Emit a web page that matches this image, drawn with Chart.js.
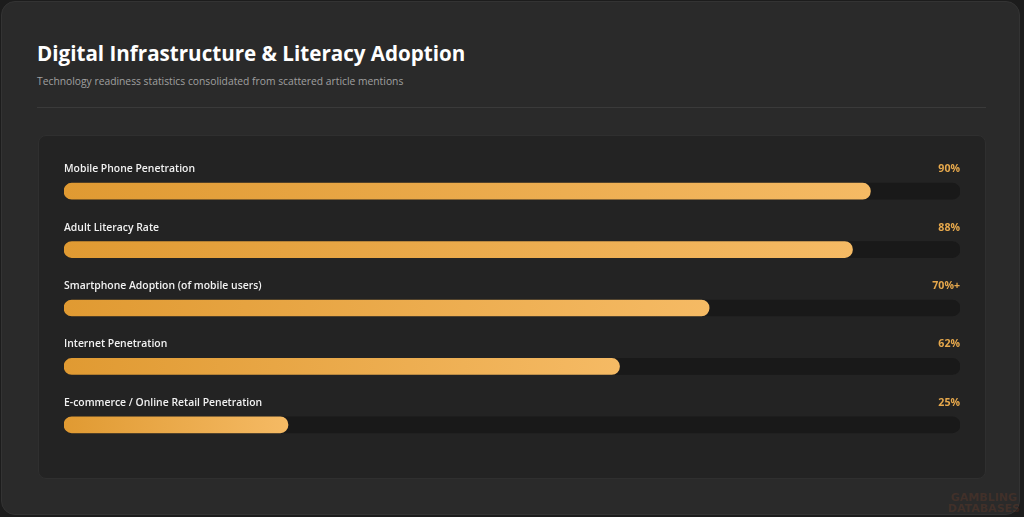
<!DOCTYPE html>
<html>
<head>
<meta charset="utf-8">
<script src="https://cdn.jsdelivr.net/npm/chart.js@4.4.1/dist/chart.umd.min.js"></script>
<style>
  html, body { margin: 0; padding: 0; background: #1c1c1c; }
  body { width: 1024px; height: 517px; overflow: hidden; font-family: "Open Sans", "Noto Sans", sans-serif; }
  .card { position: absolute; left: 1px; top: 1px; width: 1019px; height: 514px; background: #2a2a2a; border: 1px solid #333; border-radius: 14px; box-sizing: border-box; }
  h1 { position: absolute; left: 37px; top: 39px; margin: 0; font-size: 20.6px; font-weight: 700; color: #ffffff; }
  .sub { position: absolute; left: 37px; top: 74px; font-size: 10.3px; color: #a0a0a0; }
  .rule { position: absolute; left: 37px; top: 107px; width: 949px; height: 1px; background: #3a3a3a; }
  .panel { position: absolute; left: 38px; top: 135px; width: 948px; height: 344px; background: #232323; border: 1px solid #2f2f2f; border-radius: 8px; box-sizing: border-box; }
  .chartbox { position: absolute; left: 64px; top: 162px; width: 896px; height: 292px; }
  .wm { position: absolute; right: 4px; bottom: 3px; font: 700 11px "DejaVu Sans", sans-serif; color: rgba(150,70,40,0.22); text-align: center; line-height: 11px; }
</style>
</head>
<body>
<div class="card"></div>
<h1>Digital Infrastructure &amp; Literacy Adoption</h1>
<div class="sub">Technology readiness statistics consolidated from scattered article mentions</div>
<div class="rule"></div>
<div class="panel"></div>
<div class="chartbox"><canvas id="bars"></canvas></div>
<div class="wm">GAMBLING<br>DATABASES</div>

<script>
const categories = [
  'Mobile Phone Penetration',
  'Adult Literacy Rate',
  'Smartphone Adoption (of mobile users)',
  'Internet Penetration',
  'E-commerce / Online Retail Penetration'
];
const values = [90, 88, 72, 62, 25];
const valueLabels = ['90%', '88%', '70%+', '62%', '25%'];
const trackValues = [100, 100, 100, 100, 100];

// category name on the left, value on the right, both above each bar
const labelPlugin = {
  id: 'rowLabels',
  afterDatasetsDraw(chart) {
    const { ctx, chartArea, scales } = chart;
    ctx.save();
    ctx.textBaseline = 'middle';
    categories.forEach((name, i) => {
      const y = scales.y.getPixelForValue(i) - 22;
      ctx.font = '600 10.4px "Open Sans", "Noto Sans", sans-serif';
      ctx.fillStyle = '#f2f2f2';
      ctx.textAlign = 'left';
      ctx.fillText(name, chartArea.left, y);
      ctx.font = '700 10.6px "Open Sans", "Noto Sans", sans-serif';
      ctx.fillStyle = '#e6a84c';
      ctx.textAlign = 'right';
      ctx.fillText(valueLabels[i], chartArea.right, y);
    });
    ctx.restore();
  }
};

function barGradient(context) {
  const chart = context.chart;
  const { ctx, chartArea, scales } = chart;
  if (!chartArea) return '#e8a540';
  const end = scales.x.getPixelForValue(values[context.dataIndex]);
  const g = ctx.createLinearGradient(chartArea.left, 0, end, 0);
  g.addColorStop(0, '#e09a32');
  g.addColorStop(1, '#f5ba64');
  return g;
}

new Chart(document.getElementById('bars'), {
  type: 'bar',
  data: {
    labels: categories,
    datasets: [
      {
        data: values,
        backgroundColor: barGradient,
        barThickness: 16,
        borderRadius: 8,
        borderSkipped: false,
        grouped: false,
        order: 0
      },
      {
        data: trackValues,
        backgroundColor: '#191919',
        barThickness: 16,
        borderRadius: 8,
        borderSkipped: false,
        grouped: false,
        order: 1
      }
    ]
  },
  options: {
    indexAxis: 'y',
    responsive: true,
    maintainAspectRatio: false,
    animation: false,
    layout: { padding: 0 },
    plugins: { legend: { display: false }, tooltip: { enabled: false } },
    scales: {
      x: { min: 0, max: 100, display: false },
      y: { display: false }
    }
  },
  plugins: [labelPlugin]
});
</script>
</body>
</html>
